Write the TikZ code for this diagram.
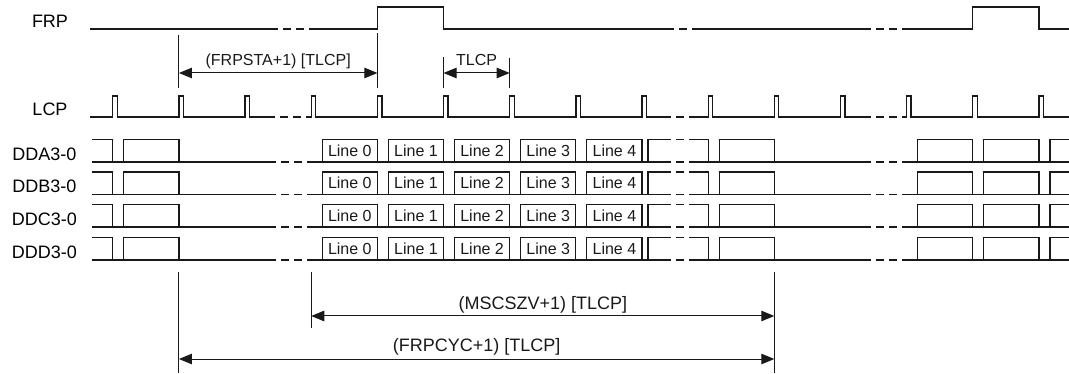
\documentclass[tikz,border=0pt]{standalone}
\usepackage{fontspec}
\setmainfont{Liberation Sans}
\usetikzlibrary{positioning, arrows.meta}

\begin{document}
\begin{tikzpicture}[
		x=1pt, y=-1pt, >={Triangle[length=13pt, width=10.5pt]},
		% Define styles
		sig/.style={line width=1.3pt, black!90},
		brk/.style={sig, dash pattern=on 8pt off 5pt},
		siglabel/.style={anchor=base, inner sep=0pt, font=\fontsize{18}{20}\selectfont},
		linebox/.style={draw, sig, minimum width=55.15pt, minimum height=22.5pt, inner sep=0pt, font=\fontsize{16}{18}\selectfont},
		ext/.style={line width=1pt, black!90},
		dim/.style={ext, <->},
		dimtext/.style={anchor=base, yshift=7pt, inner sep=0pt, font=\fontsize{16}{18}\selectfont},
		dimtextbig/.style={dimtext, font=\fontsize{18}{20}\selectfont}
		]
		
		\useasboundingbox (0,0) rectangle (1069,374);
		
		% 1. FRP
		\node[siglabel] (frp) at (50,28) {FRP};
		\draw[sig] (90,29) -- (270,29);
		\draw[brk] (270,29) -- (310,29);
		\draw[sig] (310,29) -- (377.4,29) -- (377.4,7) -- (443.55,7) -- (443.55,29) -- (666,29);
		\draw[brk] (666,29) -- (697,29);
		\draw[sig] (697,29) -- (863,29);
		\draw[brk] (863,29) -- (905,29);
		\draw[sig] (905,29) -- (972.75,29) -- (972.75,7) -- (1038.9,7) -- (1038.9,29) -- (1069,29);
		
		% 2. LCP
		\node[siglabel] (lcp) at (50,116) {LCP};
		\draw[sig] (90,117) \foreach \k in {0,1,2} {-- ({112.8+66.15*\k},117) -- ++(0,-21) -- ++(4.5,0) -- ++(0,21)} -- (267,117);
		\draw[brk] (267,117) -- (308,117);
		\draw[sig] (308,117) \foreach \k in {3,...,8} {-- ({112.8+66.15*\k},117) -- ++(0,-21) -- ++(4.5,0) -- ++(0,21)} -- (663,117);
		\draw[brk] (663,117) -- (697,117);
		\draw[sig] (697,117) \foreach \k in {9,10,11} {-- ({112.8+66.15*\k},117) -- ++(0,-21) -- ++(4.5,0) -- ++(0,21)} -- (863,117);
		\draw[brk] (863,117) -- (905,117);
		\draw[sig] (905,117) \foreach \k in {12,13,14} {-- ({112.8+66.15*\k},117) -- ++(0,-21) -- ++(4.5,0) -- ++(0,21)} -- (1069,117);
		
		% 3. Data lines
		\foreach \row/\lbl/\lo in {a/DDA3-0/162, b/DDB3-0/194.5, c/DDC3-0/227, d/DDD3-0/260} {
			\pgfmathsetmacro{\hi}{\lo-22.5}
			\node[siglabel] (lbl-\row) at (44.5,\lo-1.5) {\lbl};
			\draw[sig] (92,\lo) -- (268,\lo);
			\draw[brk] (268,\lo) -- (309,\lo);
			\draw[sig] (309,\lo) -- (663,\lo);
			\draw[brk] (663,\lo) -- (697,\lo);
			\draw[sig] (697,\lo) -- (863,\lo);
			\draw[brk] (863,\lo) -- (905,\lo);
			\draw[sig] (905,\lo) -- (1069,\lo);
			% cells
			\draw[sig] (92,\hi) -| (112.8,\lo);
			\foreach \k in {0,9,12,13}
				\draw[sig] ({123.8+66.15*\k},\lo) |- ({178.95+66.15*\k},\hi) -- ({178.95+66.15*\k},\lo);
			\draw[sig] (648,\lo) |- (663,\hi);
			\draw[brk] (663,\hi) -- (697,\hi);
			\draw[sig] (697,\hi) -| (708.15,\lo);
			\draw[sig] (1050,\lo) |- (1069,\hi);
			\foreach \i in {0,...,4}
				\node[linebox] (\row-l\i) at ({349.8+66.15*\i},\lo-11.25) {Line \i};
		}
		
		% 4. Timing dimensions
		\coordinate (sta-a) at (178.95,73);
		\coordinate (sta-b) at (377.4,73);
		\draw[ext] (sta-a) ++(0,-38) -- ++(0,53);
		\draw[ext] (sta-b) ++(0,-40) -- ++(0,55);
		\draw[dim] (sta-a) -- node[dimtext] (sta-lbl) {(FRPSTA+1) [TLCP]} (sta-b);
		
		\coordinate (tlcp-a) at (443.55,73);
		\coordinate (tlcp-b) at (509.7,73);
		\draw[ext] (tlcp-a) ++(0,-16) -- ++(0,31);
		\draw[ext] (tlcp-b) ++(0,-15) -- ++(0,30);
		\draw[dim] (tlcp-a) -- node[dimtext] (tlcp-lbl) {TLCP} (tlcp-b);
		
		\coordinate (msc-a) at (311.25,316);
		\coordinate (msc-b) at (774.3,316);
		\draw[ext] (msc-a) ++(0,-44) -- ++(0,56);
		\draw[ext] (msc-b) ++(0,-44) -- ++(0,101);
		\draw[dim] (msc-a) -- node[dimtextbig] (msc-lbl) {(MSCSZV+1) [TLCP]} (msc-b);
		
		\coordinate (cyc-a) at (178.95,359);
		\coordinate (cyc-b) at (774.3,359);
		\draw[ext] (cyc-a) ++(0,-87) -- ++(0,101);
		\draw[dim] (cyc-a) -- node[dimtextbig] (cyc-lbl) {(FRPCYC+1) [TLCP]} (cyc-b);
		
	\end{tikzpicture}
\end{document}
